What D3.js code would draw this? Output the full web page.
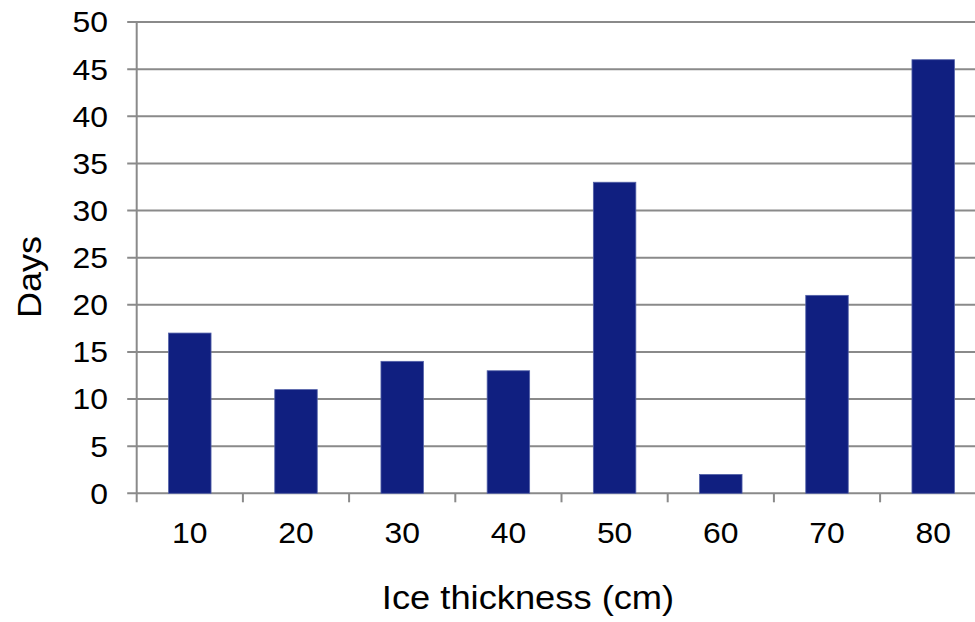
<!DOCTYPE html>
<html>
<head>
<meta charset="utf-8">
<script src="https://cdn.jsdelivr.net/npm/d3@7"></script>
<style>
  html, body { margin: 0; padding: 0; background: #fff; }
  svg { display: block; font-family: "Liberation Sans", Arial, sans-serif; }
</style>
</head>
<body>
<svg id="chart" width="975" height="622"></svg>
<script>
const categories = ["10", "20", "30", "40", "50", "60", "70", "80"];
const days = [17, 11, 14, 13, 33, 2, 21, 46];
const yTicks = [0, 5, 10, 15, 20, 25, 30, 35, 40, 45, 50];
const xTitle = "Ice thickness (cm)";
const yTitle = "Days";

(function () {
const svg = d3.select("#chart");
const mLeft = 136.7, mRight = 986.3, mTop = 22, mBottom = 493.3;

const x = d3.scaleBand().domain(categories).range([mLeft, mRight]).padding(0);
const y = d3.scaleLinear().domain([0, 50]).range([mBottom, mTop]);

const gridColor = "#8a8a8a";

// gridlines + left ticks
svg.append("g").selectAll("line").data(yTicks).join("line")
  .attr("x1", mLeft - 9.5).attr("x2", mRight)
  .attr("y1", d => y(d)).attr("y2", d => y(d))
  .attr("stroke", gridColor).attr("stroke-width", 2);

// y axis line
svg.append("line")
  .attr("x1", mLeft).attr("x2", mLeft)
  .attr("y1", mTop).attr("y2", mBottom + 9)
  .attr("stroke", gridColor).attr("stroke-width", 2);

// x category boundary ticks
const bounds = categories.slice(1).map(c => x(c));
svg.append("g").selectAll("line").data(bounds).join("line")
  .attr("x1", d => d).attr("x2", d => d)
  .attr("y1", mBottom).attr("y2", mBottom + 9)
  .attr("stroke", gridColor).attr("stroke-width", 2);

// bars
const bw = x.bandwidth() * 0.4;
svg.append("g").selectAll("rect").data(days).join("rect")
  .attr("x", (d, i) => x(categories[i]) + x.bandwidth() / 2 - bw / 2)
  .attr("width", bw)
  .attr("y", d => y(d))
  .attr("height", d => y(0) - y(d))
  .attr("fill", "#101f80")
  .attr("stroke", "#5361a8")
  .attr("stroke-width", 0.8);

// y tick labels
svg.append("g").selectAll("text").data(yTicks).join("text")
  .attr("transform", d => `translate(108,${y(d)}) scale(1.1,1)`)
  .attr("dy", "0.36em")
  .attr("text-anchor", "end")
  .attr("font-size", 29)
  .attr("fill", "#000")
  .text(d => d);

// x tick labels
svg.append("g").selectAll("text").data(categories).join("text")
  .attr("transform", d => `translate(${x(d) + x.bandwidth() / 2},533) scale(1.1,1)`)
  .attr("dy", "0.36em")
  .attr("text-anchor", "middle")
  .attr("font-size", 29)
  .attr("fill", "#000")
  .text(d => d);

// x title
svg.append("text")
  .attr("transform", "translate(528,597) scale(1.1,1)")
  .attr("dy", "0.36em")
  .attr("text-anchor", "middle")
  .attr("font-size", 33)
  .attr("fill", "#000")
  .text(xTitle);

// y title
svg.append("text")
  .attr("transform", "translate(29,277) rotate(-90) scale(1.06,1)")
  .attr("dy", "0.36em")
  .attr("text-anchor", "middle")
  .attr("font-size", 34)
  .attr("fill", "#000")
  .text(yTitle);
})();
</script>
</body>
</html>
